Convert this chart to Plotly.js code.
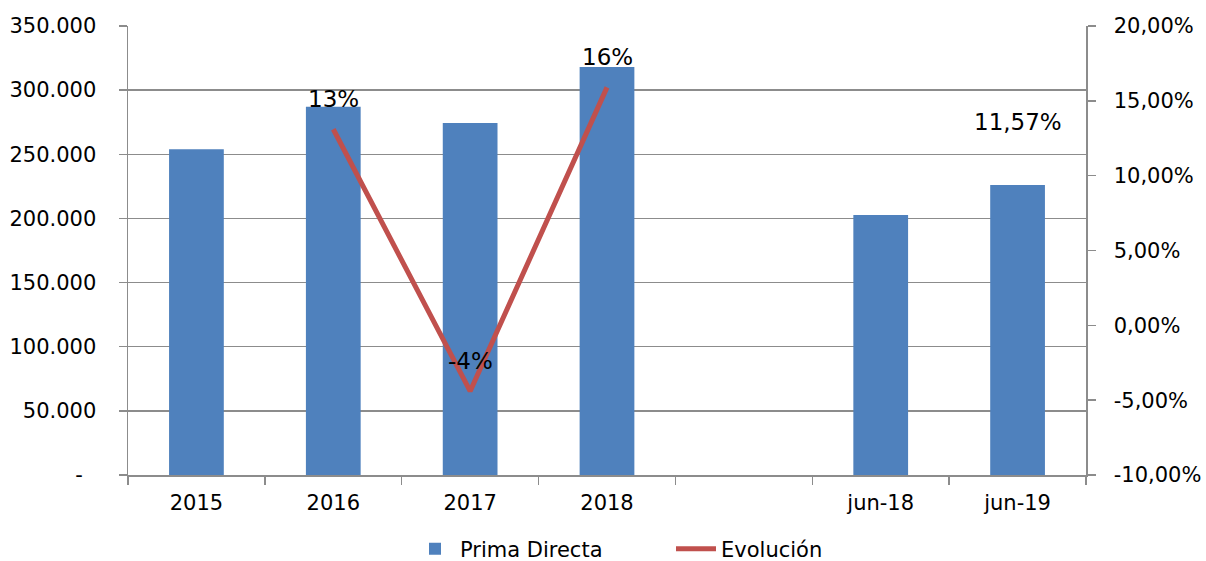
<!DOCTYPE html>
<html><head><meta charset="utf-8">
<script src="https://cdn.plot.ly/plotly-3.0.1.min.js"></script>
<style>html,body{margin:0;padding:0;background:#fff}#chart{width:1206px;height:561px}</style>
</head><body><div id="chart"></div>
<script>
const categories = ["2015", "2016", "2017", "2018", "\u00a0", "jun-18", "jun-19"];
const primaDirecta = [253900, 287100, 274400, 318000, null, 202700, 226000];
const evolucion = [null, 0.131, -0.044, 0.159, null, null, 0.1157];
const evolucionLabels = ["", "13%", "-4%", "16%", "", "", "11,57%"];
const leftTickVals = [0, 50000, 100000, 150000, 200000, 250000, 300000, 350000];
const leftTickText = ["-\u00a0\u00a0", "50.000", "100.000", "150.000", "200.000", "250.000", "300.000", "350.000"];
const rightTickVals = [-0.10, -0.05, 0, 0.05, 0.10, 0.15, 0.20];
const rightTickText = ["-10,00%", "-5,00%", "0,00%", "5,00%", "10,00%", "15,00%", "20,00%"];

const FONT = "DejaVu Sans, Verdana, sans-serif";
const GRID = "#8c8c8c";

const traces = [
  {
    type: "bar", name: "Prima Directa", x: categories, y: primaDirecta,
    marker: {color: "#4F81BD"}, width: 0.4, hoverinfo: "skip"
  },
  {
    type: "scatter", mode: "lines", name: "Evolución", x: categories, y: evolucion,
    yaxis: "y2", line: {color: "#C0504D", width: 5}, connectgaps: false, hoverinfo: "skip"
  }
];

const annotations = [];
categories.forEach((c, i) => {
  if (evolucionLabels[i] && evolucion[i] !== null) {
    annotations.push({
      x: i, y: evolucion[i], xref: "x", yref: "y2", text: evolucionLabels[i],
      showarrow: false, yanchor: "middle", xanchor: "center", yshift: 30,
      font: {family: FONT, size: 23, color: "#000"}
    });
  }
});

const layout = {
  width: 1206, height: 561,
  margin: {l: 128, r: 120, t: 26, b: 86},
  paper_bgcolor: "#fff", plot_bgcolor: "#fff",
  font: {family: FONT, size: 21, color: "#000"},
  showlegend: true,
  xaxis: {
    type: "category", categoryorder: "array", categoryarray: categories,
    range: [-0.5, categories.length - 0.5], autorange: false,
    tickson: "boundaries", ticks: "outside", ticklen: 8, tickangle: 0,
    tickcolor: GRID, tickwidth: 1.5, showline: true, linecolor: GRID, linewidth: 1.5,
    showgrid: false, tickfont: {family: FONT, size: 21, color: "#000"},
    ticklabelstandoff: 8, fixedrange: true
  },
  yaxis: {
    range: [0, 350000], autorange: false, tickvals: leftTickVals, ticktext: leftTickText,
    ticks: "outside", ticklen: 8, tickcolor: GRID, tickwidth: 1.5,
    showline: true, linecolor: GRID, linewidth: 1.5,
    showgrid: true, gridcolor: GRID, gridwidth: 1.5, zeroline: false,
    tickfont: {family: FONT, size: 21, color: "#000"}, ticklabelstandoff: 18, fixedrange: true
  },
  yaxis2: {
    overlaying: "y", side: "right", range: [-0.10, 0.20], autorange: false,
    tickvals: rightTickVals, ticktext: rightTickText,
    ticks: "outside", ticklen: 8, tickcolor: GRID, tickwidth: 1.5,
    showline: true, linecolor: GRID, linewidth: 1.5, showgrid: false, zeroline: false,
    tickfont: {family: FONT, size: 21, color: "#000"}, ticklabelstandoff: 14, fixedrange: true
  },
  legend: {
    orientation: "h", x: 0.5 + 68 / 1206, xanchor: "center", xref: "container",
    y: 12 / 561, yanchor: "middle", yref: "container",
    font: {family: FONT, size: 21, color: "#000"}, traceorder: "normal",
    itemwidth: 40, entrywidth: 206
  },
  annotations: annotations
};

Plotly.newPlot("chart", traces, layout, {displayModeBar: false, staticPlot: true});
</script></body></html>
